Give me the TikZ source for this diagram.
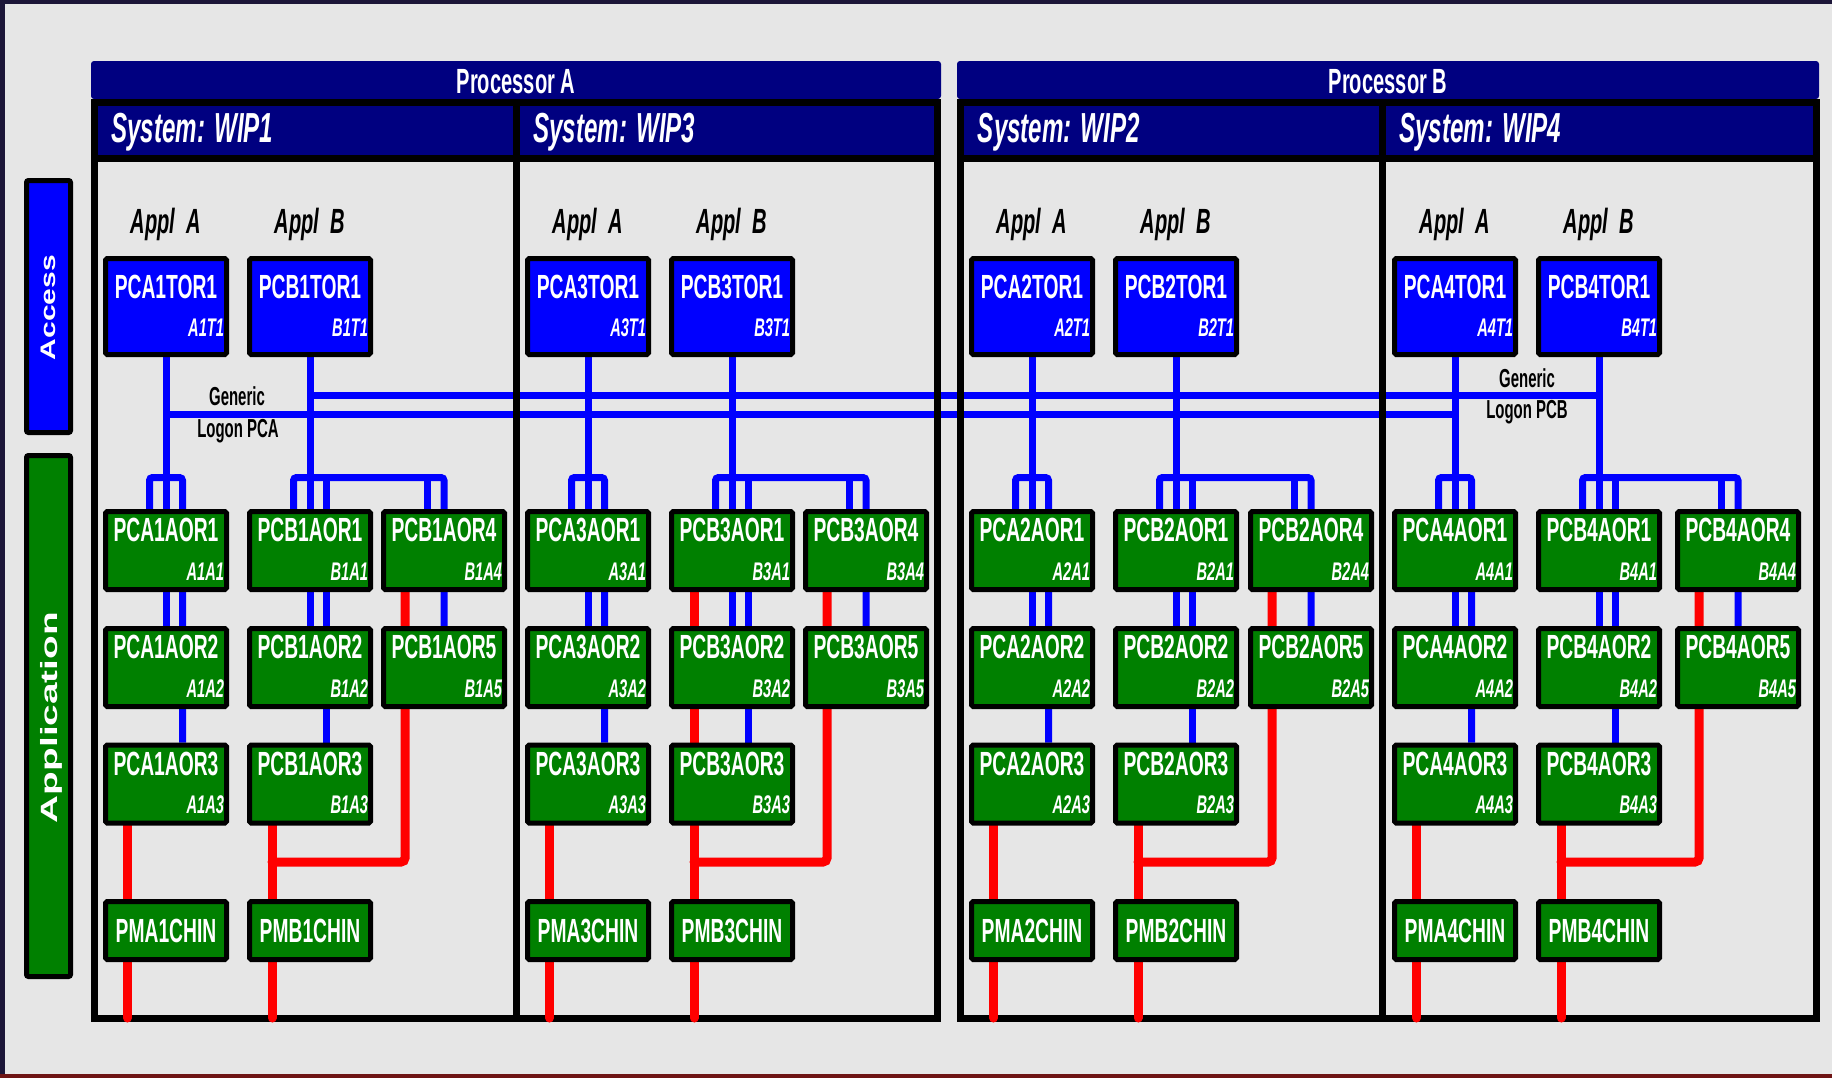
\documentclass[tikz,border=0pt]{standalone}
\usepackage{fontspec}
\setmainfont{Liberation Sans}
\newfontfamily\cond[FakeStretch=0.575]{Liberation Sans}
\definecolor{navy}{RGB}{0,0,128}
\definecolor{pblue}{RGB}{0,0,255}
\definecolor{pgreen}{RGB}{0,128,0}
\definecolor{pred}{RGB}{255,0,0}
\definecolor{pgrey}{RGB}{230,230,230}
\definecolor{edgecol}{RGB}{28,22,56}
\definecolor{edgered}{RGB}{110,20,20}
\pgfdeclarelayer{bg}
\pgfdeclarelayer{bluel}
\pgfdeclarelayer{framel}
\pgfdeclarelayer{redl}
\pgfsetlayers{bg,bluel,framel,redl,main}
\newcommand\boxlabels[5]{%
  \node[maintxt] (#1m) at ([yshift=#4]#1.north) {#2};
  \node[subtxt] (#1s) at ([xshift=-2.25pt,yshift=#5]#1.south east) {#3};}
\begin{document}
\begin{tikzpicture}[x=0.5pt,y=-0.5pt,
  box/.style={draw=black, line width=2.5pt, rounded corners=0.8pt, inner sep=0pt, minimum width=60.5pt},
  torbox/.style={box, fill=pblue, minimum height=48pt},
  aorbox/.style={box, fill=pgreen, minimum height=39pt},
  chinbox/.style={box, fill=pgreen, minimum height=29pt, text=white, font=\cond\bfseries\fontsize{16.75}{16.75}\selectfont},
  maintxt/.style={text=white, inner sep=0pt, font=\cond\bfseries\fontsize{16.75}{16.75}\selectfont},
  subtxt/.style={text=white, inner sep=0pt, anchor=east, font=\cond\bfseries\itshape\fontsize{12.75}{12.75}\selectfont},
  appl/.style={text=black, inner sep=0pt, anchor=base, font=\cond\bfseries\itshape\fontsize{17.5}{17.5}\selectfont},
  proctxt/.style={text=white, inner sep=0pt, anchor=base, font=\cond\bfseries\fontsize{17.5}{17.5}\selectfont},
  systxt/.style={text=white, inner sep=0pt, anchor=base west, font=\cond\bfseries\itshape\fontsize{21}{21}\selectfont},
  gentxt/.style={text=black, inner sep=0pt, anchor=base, font=\cond\bfseries\fontsize{13}{13}\selectfont},
  bline/.style={draw=pblue, line width=3.5pt, rounded corners=1.5pt},
  rline/.style={draw=pred, line width=4.5pt, line cap=round, rounded corners=2pt},
  frameline/.style={draw=black, line width=3.5pt},
  sidebox/.style={draw=black, line width=2.5pt, rounded corners=1pt, inner sep=0pt, minimum width=22pt},
  sidetxt/.style={rotate=90, anchor=base, text=white, inner sep=0pt},
]
\useasboundingbox (0,0) rectangle (1832,1078);
\begin{pgfonlayer}{bg}
  \fill[edgecol] (0,0) rectangle (1832,1078);
  \fill[pgrey] (5,4) rectangle (1832,1074);
  \fill[edgered] (0,1074) rectangle (1832,1078);
  % processor bars
  \fill[navy, rounded corners=1.5pt] (91,99) -- (91,61) -- (941,61) -- (941,99) -- cycle;
  \fill[navy, rounded corners=1.5pt] (957,99) -- (957,61) -- (1819,61) -- (1819,99) -- cycle;
  % system bars
  \fill[navy] (94.5,102.5) rectangle (937.5,158);
  \fill[navy] (960.5,102.5) rectangle (1816,158);
\end{pgfonlayer}
\begin{pgfonlayer}{framel}
  \draw[frameline] (94.5,102.5) rectangle (937.5,1018);
  \draw[frameline] (94.5,158) -- (937.5,158);
  \draw[frameline] (516,102.5) -- (516,1018);
  \draw[frameline] (960.5,102.5) rectangle (1816,1018);
  \draw[frameline] (960.5,158) -- (1816,158);
  \draw[frameline] (1382,102.5) -- (1382,1018);
\end{pgfonlayer}
% header texts
\node[proctxt] (procA) at (516,93) {Processor A};
\node[proctxt] (procB) at (1388,93) {Processor B};
\node[systxt] (sys1) at (111,142) {System: WIP1};
\node[systxt] (sys3) at (533,142) {System: WIP3};
\node[systxt] (sys2) at (977.5,142) {System: WIP2};
\node[systxt] (sys4) at (1399,142) {System: WIP4};
% side labels
\node[sidebox, fill=pblue, minimum height=126pt] (acc) at (48.5,306.5) {};
\node[sidetxt, font=\bfseries\fontsize{10.5}{10.5}\selectfont] (acct) at (55,307.5) {\scalebox{1.43}[1]{Access}};
\node[sidebox, fill=pgreen, minimum height=260.5pt] (app) at (48.5,716) {};
\node[sidetxt, font=\bfseries\fontsize{11.75}{11.75}\selectfont] (appt) at (57,717.5) {\scalebox{1.65}[1]{Application}};
% systems
\foreach \n/\xa/\xb/\xc/\rs in {1/166/310/444/3, 3/588/732/866/1, 2/1032/1176/1311/3, 4/1455/1599/1738/3}{
  \node[appl] (apA\n) at (\xa,233) {Appl\ \ A};
  \node[appl] (apB\n) at (\xb,233) {Appl\ \ B};
  \node[torbox] (tA\n) at (\xa,306.5) {};
  \boxlabels{tA\n}{PCA\n TOR1}{A\n T1}{-15.5pt}{14.75pt}
  \node[torbox] (tB\n) at (\xb,306.5) {};
  \boxlabels{tB\n}{PCB\n TOR1}{B\n T1}{-15.5pt}{14.75pt}
  \foreach \k/\yy in {1/550.5,2/667.5,3/784}{
    \node[aorbox] (rA\n\k) at (\xa,\yy) {};
    \boxlabels{rA\n\k}{PCA\n AOR\k}{A\n A\k}{-10.5pt}{10.25pt}
    \node[aorbox] (rB\n\k) at (\xb,\yy) {};
    \boxlabels{rB\n\k}{PCB\n AOR\k}{B\n A\k}{-10.5pt}{10.25pt}
  }
  \node[aorbox] (rB\n4) at (\xc,550.5) {};
  \boxlabels{rB\n4}{PCB\n AOR4}{B\n A4}{-10.5pt}{10.25pt}
  \node[aorbox] (rB\n5) at (\xc,667.5) {};
  \boxlabels{rB\n5}{PCB\n AOR5}{B\n A5}{-10.5pt}{10.25pt}
  \node[chinbox] (cA\n) at (\xa,930.5) {PMA\n CHIN};
  \node[chinbox] (cB\n) at (\xb,930.5) {PMB\n CHIN};
  \coordinate (fA\n) at (\xa,477.5);
  \coordinate (fB\n) at (\xb,477.5);
  \coordinate (fC\n) at (\xc,477.5);
  \coordinate (bA\n) at (\xa,1018);
  \coordinate (bB\n) at (\xb,1018);
  \coordinate (jB\n) at (\xb,862);
  \coordinate (jC\n) at (\xc,862);
  \begin{pgfonlayer}{bluel}
    \draw[bline] (tA\n.south) -- (rA\n2.north);
    \draw[bline] ([xshift=-8.25pt]rA\n1.north) -- ([xshift=-8.25pt]fA\n) -- ([xshift=8.25pt]fA\n) -- ([xshift=8.25pt]rA\n3.north);
    \draw[bline] (tB\n.south) -- (rB\n2.north);
    \draw[bline] ([xshift=-8.25pt]rB\n1.north) -- ([xshift=-8.25pt]fB\n) -- (fC\n) -- (rB\n5.north);
    \draw[bline] ([xshift=8.25pt]fB\n) -- ([xshift=8.25pt]rB\n3.north);
    \draw[bline] ([xshift=-8.5pt]fC\n) -- ([xshift=-8.5pt]rB\n4.north);
  \end{pgfonlayer}
  \begin{pgfonlayer}{redl}
    \draw[rline] ([xshift=-19.25pt]rA\n3.south) -- ([xshift=-19.25pt]bA\n);
    \draw[rline] ([xshift=-19pt]rB\n\rs.south) -- ([xshift=-19pt]bB\n);
    \draw[rline] ([xshift=-19.5pt]rB\n4.south) -- ([xshift=-19.5pt]jC\n) -- ([xshift=-19pt]jB\n);
  \end{pgfonlayer}
}
% generic logon lines
\coordinate (gA) at (0,414);
\coordinate (gB) at (0,395);
\begin{pgfonlayer}{bluel}
  \draw[bline] (tA1 |- gA) -- (tA4 |- gA);
  \draw[bline] (tB1 |- gB) -- (tB4 |- gB);
\end{pgfonlayer}
\node[gentxt] (genA1) at (237,405) {Generic};
\node[gentxt] (genA2) at (238,437) {Logon PCA};
\node[gentxt] (genB1) at (1527,387) {Generic};
\node[gentxt] (genB2) at (1527,418) {Logon PCB};
\end{tikzpicture}
\end{document}
